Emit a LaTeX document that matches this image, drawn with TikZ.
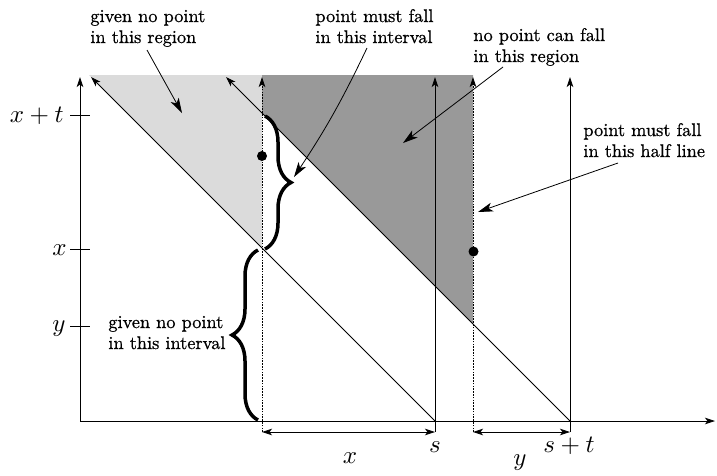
\documentclass[tikz,border=0pt]{standalone}
\DeclareFontShape{OML}{cmm}{m}{it}{<->cmmi10}{}
\DeclareFontShape{OT1}{cmr}{m}{n}{<->cmr10}{}
\usepackage{fontspec}
\newfontfamily\lmten{lmroman10-regular.otf}[FakeBold=0.8]
\usetikzlibrary{arrows.meta,decorations.pathreplacing}
\begin{document}
\begin{tikzpicture}[x=1pt,y=-1pt,line width=0.8pt,
  lbl/.style={font=\lmten\fontsize{18.3}{21}\selectfont, align=left, anchor=base west, inner sep=0pt},
  mlbl/.style={font=\fontsize{25}{30}\selectfont, inner sep=0pt},
  ax/.style={-{Stealth[length=10pt,width=6.5pt,inset=2.5pt]}},
  pointer/.style={-{Stealth[length=15pt,width=9pt,inset=4pt]}},
  dim/.style={{Stealth[length=10pt,width=6.5pt,inset=2.5pt]}-{Stealth[length=10pt,width=6.5pt,inset=2.5pt]}},
  guide/.style={dash pattern=on 1.6pt off 1.2pt},
  bracestyle/.style={decorate, decoration={brace, amplitude=26pt}, line width=3.5pt},
  lightreg/.style={fill=black!14},
  darkreg/.style={fill=black!40},
]
\useasboundingbox (0,0) rectangle (717,475);

% key coordinates
\coordinate (O) at (80,421);
\coordinate (Ytop) at (80,77);
\coordinate (Xend) at (715,421);
\coordinate (S) at (435,421);
\coordinate (ST) at (570,421);
\coordinate (Stop) at (435,77);
\coordinate (STtop) at (570,77);
\coordinate (D1b) at (262,432);
\coordinate (D1t) at (262,77);
\coordinate (D2b) at (473,432);
\coordinate (D2t) at (473,77);
\coordinate (Sb) at (435,432);
\coordinate (STb) at (570,432);
\coordinate (diagA) at (91,77);
\coordinate (diagB) at (226,77);

% shaded regions
\fill[lightreg] (89,75) -- (262,75) -- (262,248) -- cycle;
\fill[darkreg] (262,75) -- (473,75) -- (473,324) -- (262,113) -- cycle;

% axes
\draw[ax] (O) -- (Ytop);
\draw[ax] (O) -- (Xend);

% ticks
\coordinate (t1a) at (70,115); \coordinate (t1b) at (90,115);
\coordinate (t2a) at (70,249); \coordinate (t2b) at (90,249);
\coordinate (t3a) at (70,326); \coordinate (t3b) at (90,326);
\draw (t1a) -- (t1b);
\draw (t2a) -- (t2b);
\draw (t3a) -- (t3b);
\node[mlbl,anchor=base east] (lxt) at (64,122) {$x+t$};
\node[mlbl,anchor=base east] (lx) at (67,255) {$x$};
\node[mlbl,anchor=base east] (ly) at (66,331) {$y$};

% diagonals
\draw[ax] (S) -- (diagA);
\draw[ax] (ST) -- (diagB);

% verticals
\draw[ax] (Sb) -- (Stop);
\draw[ax] (STb) -- (STtop);
\draw[ax,guide] (D1b) -- (D1t);
\draw[ax,guide] (D2b) -- (D2t);

% dimension arrows
\draw[dim] (D1b) -- (Sb);
\draw[dim] (D2b) -- (STb);
\node[mlbl,anchor=base] (lxx) at (350,463) {$x$};
\node[mlbl,anchor=base] (ls) at (435,452) {$s$};
\node[mlbl,anchor=base] (lyy) at (520,465) {$y$};
\node[mlbl,anchor=base] (lst) at (569,452) {$s+t$};

% points
\fill (262,156) circle (5pt);
\fill (473.5,251.5) circle (5pt);

% braces
\coordinate (bA1) at (265,116); \coordinate (bA2) at (265,249);
\coordinate (bB1) at (258,420); \coordinate (bB2) at (258,250);
\draw[bracestyle] (bA1) -- (bA2);
\draw[bracestyle] (bB1) -- (bB2);

% labels (anchor = baseline of the last line)
\node[lbl] (regA) at (90,43) {given no point\\in this region};
\node[lbl] (intA) at (315,43) {point must fall\\in this interval};
\node[lbl] (regB) at (473,62) {no point can fall\\in this region};
\node[lbl] (half) at (583,157) {point must fall\\in this half line};
\node[lbl] (intB) at (108,349) {given no point\\in this interval};

% pointers
\coordinate (pA0) at (147,50); \coordinate (pA) at (182,113);
\coordinate (pB0) at (367,48); \coordinate (pB) at (294,177);
\coordinate (pC0) at (503,67); \coordinate (pC) at (403,143);
\coordinate (pD0) at (618,163); \coordinate (pD) at (478,212);
\draw[pointer] (pA0) -- (pA);
\draw[pointer] (pB0) to[bend left=4] (pB);
\draw[pointer] (pC0) -- (pC);
\draw[pointer] (pD0) -- (pD);
\end{tikzpicture}
\end{document}
